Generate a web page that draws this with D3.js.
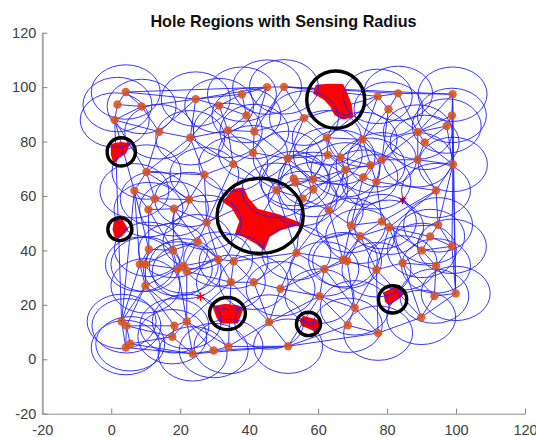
<!DOCTYPE html>
<html>
<head>
<meta charset="utf-8">
<script src="https://cdn.jsdelivr.net/npm/d3@7"></script>
<style>
  html, body { margin: 0; padding: 0; background: #fff; }
  svg { display: block; }
  text { font-family: "Liberation Sans", Arial, sans-serif; }
</style>
</head>
<body>
<div id="dataviz"></div>
<script>
var xTicks = [-20, 0, 20, 40, 60, 80, 100, 120];
var yTicks = [-20, 0, 20, 40, 60, 80, 100, 120];
var sensingRadius = 10;

// sensor nodes
var nodeX = [4.2, 1.8, 8.8, 1.0, 13.9, 22.9, 24.5, 31.3, 37.9, 39.2, 45.2, 33.8, 41.5, 41.1, 35.4,
  10.2, 27.0, 6.7, 12.6, 22.6, 10.8, 18.2, 50.1, 55.9, 77.3, 83.2, 80.4, 99.0, 98.8, 97.3,
  88.9, 90.9, 62.5, 72.9, 62.8, 66.5, 51.2, 78.5, 88.9, 99.1, 75.2, 67.9, 73.1, 76.9, 52.9,
  53.5, 58.5, 58.6, 47.9, 55.5, 94.2, 63.1, 78.5, 69.5, 80.6, 94.8, 72.2, 92.5, 98.8, 90.1,
  53.7, 67.2, 68.4, 84.5, 61.8, 76.9, 94.2, 49.1, 60.4, 99.9, 93.7, 70.6, 89.9, 68.6, 45.8,
  77.4, 51.3, 27.7, 10.9, 17.9, 25.0, 8.3, 9.9, 19.3, 21.0, 21.9, 31.0, 35.5, 9.9, 34.7,
  41.3, 3.0, 4.4, 21.9, 18.3, 17.7, 5.5, 4.2, 34.0, 29.7, 23.6];
var nodeY = [98.2, 93.6, 92.9, 87.9, 83.6, 81.4, 95.6, 93.2, 97.4, 89.6, 100.0, 84.1, 83.7, 75.9, 71.7,
  68.8, 67.8, 61.9, 59.0, 58.7, 55.0, 55.3, 100.1, 88.6, 96.6, 97.7, 91.9, 97.4, 89.6, 85.7,
  83.5, 79.7, 81.4, 80.8, 75.1, 74.2, 73.8, 73.3, 73.3, 71.6, 71.3, 69.6, 66.9, 65.2, 66.4,
  64.9, 66.1, 62.4, 62.1, 59.1, 62.0, 54.8, 50.6, 49.2, 48.5, 49.4, 45.2, 45.1, 41.5, 40.0,
  39.1, 36.6, 36.1, 35.4, 33.2, 32.9, 34.3, 25.9, 23.2, 24.2, 23.2, 18.9, 15.4, 12.5, 13.7,
  9.6, 4.8, 50.3, 40.4, 40.0, 43.2, 34.9, 34.9, 33.2, 34.3, 32.3, 36.8, 36.0, 27.0, 28.3,
  28.3, 13.9, 12.3, 13.9, 12.3, 8.3, 5.7, 4.3, 4.7, 3.2, 2.0];

// uncovered regions, outlines
var holeBig = [[32.5, 57.9], [35.6, 62.4], [38.3, 62.8], [39.5, 59.3], [42.4, 55], [48.7, 52.9], [55, 49.8],
  [49.2, 47.7], [45.8, 45.2], [44.3, 40.3], [41.9, 42.8], [38.5, 45.2], [36.1, 46.1], [37.4, 50.7], [35.1, 55.7]];
var holeTop = [[59.5, 100.6], [63.2, 101], [67.1, 100.9], [68.2, 97.9], [69.5, 93.6], [70, 89.1],
  [67.1, 88.4], [64.9, 90], [63.7, 93], [61.7, 95.7], [58.8, 97.7]];
var holeUpperLeft = [[0.1, 78.9], [2.8, 79.6], [5.2, 79.2], [4.2, 75.9], [2.3, 74.3], [0.8, 72.2], [0.1, 75.3]];
var holeLowerLeft = [[1, 51], [3.2, 51], [4.7, 47.7], [2.8, 45.2], [1.3, 44.4], [0.6, 47.7]];
var holeBottom = [[29.6, 19.3], [33.2, 20.1], [36.8, 19.5], [38, 18.3], [37.1, 15.2], [36.6, 13.4], [31.8, 13.4], [30.8, 15.2]];
var holeBottomRight = [[54.8, 14.3], [55.9, 15.6], [59.8, 14.3], [60.6, 12.8], [59.3, 10.3], [57.4, 11.5], [55.4, 12.4]];
var holeRight = [[79.1, 24.4], [83.5, 27.1], [85.4, 25], [83.5, 22.6], [80.6, 20.1], [79.6, 21.3]];
var holes = [holeBig, holeTop, holeUpperLeft, holeLowerLeft, holeBottom, holeBottomRight, holeRight];

// single uncovered points
var starX = [84.5, 25.9];
var starY = [58.5, 23.0];
// the first one has a dark blue middle
var starCoreX = [84.5];
var starCoreY = [58.5];

// black rings around the holes
var ringX = [43.2, 65.1, 2.9, 2.5, 33.7, 57.2, 81.6];
var ringY = [52.7, 95.4, 76.2, 47.8, 16.8, 13.0, 22.0];
var ringRx = [12.5, 8.4, 4.1, 3.5, 5.2, 3.5, 4.1];
var ringRy = [13.8, 10.5, 5.2, 4.2, 5.9, 4.3, 5.0];

var width = 536;
var height = 437;

var x = d3.scaleLinear().domain([-20, 120]).range([42.3, 525]);
var y = d3.scaleLinear().domain([-20, 120]).range([413.7, 32.7]);

var svgContainer = d3.select('#dataviz').append('svg')
                                        .attr('width', width)
                                        .attr('height', height);

// the links look like a triangulation of the nodes (hull edges are there too)
var points = nodeX.map(function(d, i) { return [x(d), y(nodeY[i])]; });
var delaunay = d3.Delaunay.from(points);

svgContainer.append('path')
            .attr('d', delaunay.render())
            .attr('fill', 'none')
            .attr('stroke', '#2020ff')
            .attr('stroke-width', 0.9);

var holePath = d3.line()
                 .x(function(d) { return x(d[0]); })
                 .y(function(d) { return y(d[1]); });

svgContainer.append('g').selectAll('path')
            .data(holes).enter()
            .append('path')
            .attr('d', function(d) { return holePath(d) + 'Z'; })
            .attr('fill', '#ff0000')
            .attr('stroke', '#ff0000')
            .attr('stroke-width', 1.5);

// sensing range of every node
svgContainer.append('g').selectAll('ellipse')
            .data(nodeX).enter()
            .append('ellipse')
            .attr('cx', function(d) { return x(d); })
            .attr('cy', function(d, i) { return y(nodeY[i]); })
            .attr('rx', x(sensingRadius) - x(0))
            .attr('ry', y(0) - y(sensingRadius))
            .attr('fill', 'none')
            .attr('stroke', '#2020ff')
            .attr('stroke-width', 0.9);

svgContainer.append('g').selectAll('circle')
            .data(nodeX).enter()
            .append('circle')
            .attr('cx', function(d) { return x(d); })
            .attr('cy', function(d, i) { return y(nodeY[i]); })
            .attr('r', 4.2)
            .attr('fill', '#d95319')
            .attr('fill-opacity', 0.88);

svgContainer.append('g').selectAll('path')
            .data(starX).enter()
            .append('path')
            .attr('transform', function(d, i) { return 'translate(' + x(d) + ',' + y(starY[i]) + ')'; })
            .attr('d', d3.symbol().type(d3.symbolAsterisk).size(50))
            .attr('fill', 'none')
            .attr('stroke', '#ff0000')
            .attr('stroke-width', 1.4);

svgContainer.append('g').selectAll('path')
            .data(starCoreX).enter()
            .append('path')
            .attr('transform', function(d, i) { return 'translate(' + x(d) + ',' + y(starCoreY[i]) + ')'; })
            .attr('d', d3.symbol().type(d3.symbolAsterisk).size(14))
            .attr('fill', 'none')
            .attr('stroke', '#2020c0')
            .attr('stroke-width', 1.2);

svgContainer.append('g').selectAll('ellipse')
            .data(ringX).enter()
            .append('ellipse')
            .attr('cx', function(d) { return x(d); })
            .attr('cy', function(d, i) { return y(ringY[i]); })
            .attr('rx', function(d, i) { return x(ringRx[i]) - x(0); })
            .attr('ry', function(d, i) { return y(0) - y(ringRy[i]); })
            .attr('fill', 'none')
            .attr('stroke', '#000')
            .attr('stroke-width', 3.4);

var xAxis = svgContainer.append('g')
                        .attr('transform', 'translate(0,' + y(-20) + ')')
                        .call(d3.axisBottom(x).tickValues(xTicks).tickFormat(String).tickSizeInner(-5).tickSizeOuter(0).tickPadding(11));

var yAxis = svgContainer.append('g')
                        .attr('transform', 'translate(' + x(-20) + ',0)')
                        .call(d3.axisLeft(y).tickValues(yTicks).tickFormat(String).tickSizeInner(-5).tickSizeOuter(0).tickPadding(6));

xAxis.selectAll('text').attr('font-size', 14.5).attr('font-family', '"Liberation Sans", Arial, sans-serif').attr('fill', '#404040');
yAxis.selectAll('text').attr('font-size', 14.5).attr('font-family', '"Liberation Sans", Arial, sans-serif').attr('fill', '#404040');
xAxis.select('.domain').attr('stroke', '#8c8c8c').attr('stroke-width', 1);
yAxis.select('.domain').attr('stroke', '#a6a6a6').attr('stroke-width', 2);
xAxis.selectAll('.tick line').attr('stroke', '#808080');
yAxis.selectAll('.tick line').attr('stroke', '#808080');

svgContainer.append('text')
            .attr('x', 283.5)
            .attr('y', 26.5)
            .attr('text-anchor', 'middle')
            .attr('font-size', 16.2)
            .attr('font-weight', 'bold')
            .attr('fill', '#111')
            .text('Hole Regions with Sensing Radius');
</script>
</body>
</html>
